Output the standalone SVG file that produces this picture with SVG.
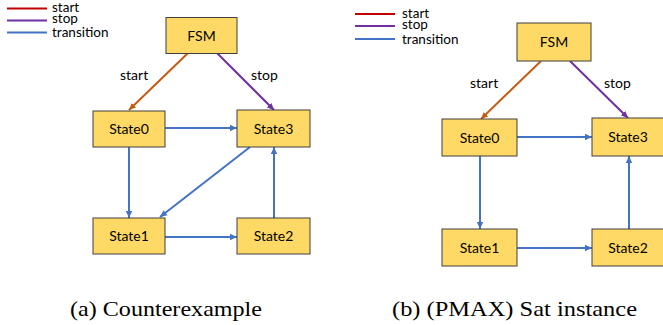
<svg xmlns="http://www.w3.org/2000/svg" width="663" height="325" viewBox="0 0 663 325">
<style>
.box{fill:#FFD966;stroke:#3F3F3F;stroke-width:1}
.lbl{font-family:Lato,"Open Sans","Liberation Sans",sans-serif;font-size:14px;fill:#000;text-anchor:middle}
.elbl{font-family:Lato,"Open Sans","Liberation Sans",sans-serif;font-size:14px;fill:#000}
.leg{font-family:Lato,"Open Sans","Liberation Sans",sans-serif;font-size:13.5px;fill:#000}
.cap{font-family:"Liberation Serif","Times New Roman",serif;font-size:22px;fill:#000}
.tr{stroke:#4472C4;stroke-width:2;fill:none;marker-end:url(#ab)}
.st{stroke:#C55A11;stroke-width:2;fill:none;marker-end:url(#ao)}
.sp{stroke:#7030A0;stroke-width:2;fill:none;marker-end:url(#ap)}
</style>
<defs>
<marker id="ab" markerUnits="userSpaceOnUse" markerWidth="8" markerHeight="8" refX="7" refY="4" orient="auto"><path d="M0,0.8 L7,4 L0,7.2 Z" fill="#4472C4"/></marker>
<marker id="ao" markerUnits="userSpaceOnUse" markerWidth="8" markerHeight="8" refX="7" refY="4" orient="auto"><path d="M0,0.8 L7,4 L0,7.2 Z" fill="#C55A11"/></marker>
<marker id="ap" markerUnits="userSpaceOnUse" markerWidth="8" markerHeight="8" refX="7" refY="4" orient="auto"><path d="M0,0.8 L7,4 L0,7.2 Z" fill="#7030A0"/></marker>
</defs>

<g id="legend-a">
<line x1="7" y1="8.5" x2="47" y2="8.5" stroke="#C00000" stroke-width="2"/>
<line x1="7" y1="20.5" x2="47" y2="20.5" stroke="#7030A0" stroke-width="2"/>
<line x1="7" y1="32.5" x2="47" y2="32.5" stroke="#4472C4" stroke-width="2"/>
<text class="leg" x="52" y="11.5">start</text>
<text class="leg" x="52" y="22.5">stop</text>
<text class="leg" x="52" y="37">transition</text>
</g>

<g id="connectors-a">
<line class="st" x1="188" y1="53" x2="129" y2="110"/>
<line class="sp" x1="217" y1="53" x2="274" y2="110"/>
<line class="tr" x1="165" y1="128" x2="237" y2="128"/>
<line class="tr" x1="129" y1="147" x2="129" y2="218"/>
<line class="tr" x1="250" y1="147" x2="160" y2="217"/>
<line class="tr" x1="165" y1="237" x2="237" y2="237"/>
<line class="tr" x1="274" y1="218" x2="274" y2="147"/>
<text class="elbl" x="120" y="80">start</text>
<text class="elbl" x="251" y="80">stop</text>
</g>

<g id="a-FSM"><rect class="box" x="166" y="17.5" width="71" height="36"/><text class="lbl" x="201.5" y="40.5">FSM</text></g>
<g id="a-State0"><rect class="box" x="93" y="111" width="72" height="36"/><text class="lbl" x="129" y="134">State0</text></g>
<g id="a-State3"><rect class="box" x="237" y="110" width="73" height="37"/><text class="lbl" x="273.5" y="133.5">State3</text></g>
<g id="a-State1"><rect class="box" x="93" y="218" width="72" height="36"/><text class="lbl" x="129" y="241">State1</text></g>
<g id="a-State2"><rect class="box" x="237" y="218" width="73" height="36"/><text class="lbl" x="273.5" y="241">State2</text></g>

<text class="cap" x="70" y="316" textLength="192" lengthAdjust="spacingAndGlyphs">(a) Counterexample</text>

<g id="legend-b">
<line x1="355" y1="14" x2="395" y2="14" stroke="#C00000" stroke-width="2"/>
<line x1="355" y1="26" x2="395" y2="26" stroke="#7030A0" stroke-width="2"/>
<line x1="355" y1="39" x2="395" y2="39" stroke="#4472C4" stroke-width="2"/>
<text class="leg" x="402" y="17.5">start</text>
<text class="leg" x="402" y="29">stop</text>
<text class="leg" x="402" y="44">transition</text>
</g>

<g id="connectors-b">
<line class="st" x1="541" y1="61" x2="481" y2="119"/>
<line class="sp" x1="570" y1="61" x2="628" y2="118"/>
<line class="tr" x1="517" y1="137" x2="592" y2="137"/>
<line class="tr" x1="480" y1="156" x2="480" y2="229"/>
<line class="tr" x1="517" y1="248" x2="592" y2="248"/>
<line class="tr" x1="629" y1="229" x2="629" y2="156"/>
<text class="elbl" x="470" y="87.5">start</text>
<text class="elbl" x="604" y="87.5">stop</text>
</g>

<g id="b-FSM"><rect class="box" x="517" y="23" width="74" height="38"/><text class="lbl" x="554" y="47">FSM</text></g>
<g id="b-State0"><rect class="box" x="442" y="119" width="75" height="37"/><text class="lbl" x="479.5" y="142.5">State0</text></g>
<g id="b-State3"><rect class="box" x="592" y="118" width="73" height="38"/><text class="lbl" x="628" y="142">State3</text></g>
<g id="b-State1"><rect class="box" x="442" y="229" width="75" height="37"/><text class="lbl" x="479.5" y="252.5">State1</text></g>
<g id="b-State2"><rect class="box" x="592" y="229" width="73" height="37"/><text class="lbl" x="628" y="252.5">State2</text></g>

<text class="cap" x="392" y="316" textLength="245" lengthAdjust="spacingAndGlyphs">(b) (PMAX) Sat instance</text>
</svg>
